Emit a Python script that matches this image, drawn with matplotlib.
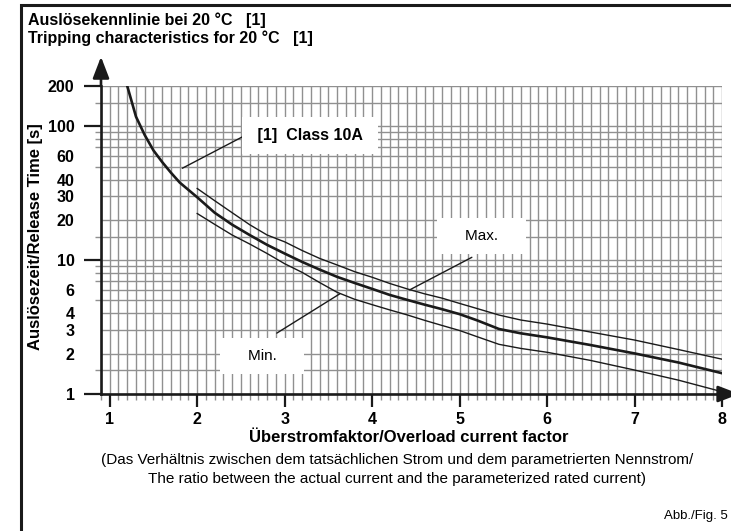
"""
Auslösekennlinie / Tripping characteristics (Class 10A)
"""
import numpy as np
import matplotlib
matplotlib.use('Agg')
import matplotlib.pyplot as plt
from matplotlib.patches import Rectangle
from matplotlib.ticker import FixedLocator, NullLocator, NullFormatter

plt.rcParams['font.family'] = ['Liberation Sans', 'DejaVu Sans']

# Kennlinien
main_x = [1.2, 1.3, 1.4, 1.5, 1.6, 1.7, 1.8, 2.0, 2.2, 2.4, 2.6, 2.8, 3.0, 3.2, 3.4, 3.6,
          3.8, 4.0, 4.2, 4.4, 4.6, 4.8, 5.0, 5.2, 5.45, 5.7, 6.0, 6.5, 7.0, 7.5, 8.0]
main_y = [200, 118, 86, 66, 54, 45, 38, 29.5, 22.6, 18.4, 15.4, 13.0, 11.2, 9.7, 8.5, 7.5,
          6.75, 6.1, 5.5, 5.05, 4.65, 4.3, 3.95, 3.55, 3.06, 2.84, 2.65, 2.32, 2.01, 1.72, 1.43]

max_x = [2.0, 2.2, 2.4, 2.6, 2.8, 3.0, 3.2, 3.4, 3.6, 3.8, 4.0, 4.2, 4.4, 4.6, 4.8, 5.0,
         5.2, 5.45, 5.7, 6.0, 6.5, 7.0, 7.5, 8.0]
max_y = [34.3, 27.8, 22.6, 18.4, 15.4, 13.7, 11.8, 10.3, 9.2, 8.2, 7.45, 6.7, 6.1, 5.6, 5.2, 4.75,
         4.35, 3.89, 3.57, 3.33, 2.9, 2.53, 2.15, 1.82]

min_x = [2.0, 2.2, 2.4, 2.6, 2.8, 3.0, 3.2, 3.4, 3.6, 3.8, 4.0, 4.2, 4.4, 4.6, 4.8, 5.0,
         5.2, 5.45, 5.7, 6.0, 6.5, 7.0, 7.5, 8.0]
min_y = [22.3, 18.5, 15.4, 13.2, 11.2, 9.4, 8.1, 6.8, 5.75, 5.1, 4.65, 4.25, 3.9, 3.55, 3.25, 2.98,
         2.68, 2.35, 2.19, 2.05, 1.78, 1.51, 1.27, 1.04]

# Achsen
x_ticks = [1, 2, 3, 4, 5, 6, 7, 8]
y_ticks = [1, 2, 3, 4, 6, 10, 20, 30, 40, 60, 100, 200]
y_long_ticks = [1, 10, 100, 200]
y_grid = [1, 1.5, 2, 3, 4, 5, 6, 7, 8, 9, 10, 15, 20, 30, 40, 50, 60, 70, 80, 90,
          100, 150, 200]

dark = '#1a1a1a'
gridc = '#909090'

fig = plt.figure(figsize=(7.31, 5.31), dpi=100)
ax = fig.add_axes([101 / 731, 1 - 394 / 531, 621 / 731, 308 / 531])

ax.plot(max_x, max_y, color=dark, lw=1.0, zorder=3)
ax.plot(min_x, min_y, color=dark, lw=1.0, zorder=3)
ax.plot(main_x, main_y, color=dark, lw=1.9, zorder=3)

ax.set_yscale('log')
ax.set_xlim(0.9, 8.0)
ax.set_ylim(1, 200)

ax.xaxis.set_major_locator(FixedLocator(x_ticks))
ax.xaxis.set_minor_locator(FixedLocator(np.arange(0.9, 8.01, 0.1)))
ax.yaxis.set_major_locator(FixedLocator(y_ticks))
ax.yaxis.set_minor_locator(FixedLocator(y_grid))
ax.set_yticklabels([str(v) for v in y_ticks])
ax.yaxis.set_minor_formatter(NullFormatter())

ax.grid(which='both', color=gridc, lw=1.0, zorder=0)
ax.set_axisbelow(True)

for s in ['top', 'right']:
    ax.spines[s].set_visible(False)
for s in ['left', 'bottom']:
    ax.spines[s].set_linewidth(1.9)
    ax.spines[s].set_color(dark)

ax.tick_params(axis='x', which='major', length=9, width=1.6, color=dark, pad=4,
               labelsize=11.5)
ax.tick_params(axis='x', which='minor', length=4.5, width=1.0, color=gridc)
ax.tick_params(axis='y', which='major', length=0, pad=19, labelsize=11.5)
ax.tick_params(axis='y', which='minor', length=4, width=1.0, color=gridc)
for lab in ax.get_xticklabels() + ax.get_yticklabels():
    lab.set_fontweight('bold')

# lange Striche an 1, 10, 100, 200
sec = ax.secondary_yaxis('left')
sec.yaxis.set_major_locator(FixedLocator(y_long_ticks))
sec.yaxis.set_minor_locator(NullLocator())
sec.yaxis.set_major_formatter(NullFormatter())
sec.tick_params(length=12, width=1.6, color=dark)
sec.spines['left'].set_visible(False)

# Pfeile
ax.annotate('', xy=(0, 1.095), xytext=(0, 1.0), xycoords='axes fraction',
            arrowprops=dict(arrowstyle='-|>,head_length=0.65,head_width=0.25',
                            lw=1.9, color=dark, shrinkA=0, shrinkB=0,
                            mutation_scale=20))
ax.annotate('', xy=(1.028, 0), xytext=(1.0, 0), xycoords='axes fraction',
            annotation_clip=False,
            arrowprops=dict(arrowstyle='-|>,head_length=0.65,head_width=0.25',
                            lw=1.9, color=dark, shrinkA=0, shrinkB=0,
                            mutation_scale=20))

# Beschriftungen der Kurven
box = dict(boxstyle='square,pad=0.7', fc='white', ec='none')
ax.text(3.29, 85, ' [1]  Class 10A ', ha='center', va='center', fontsize=11.5,
        fontweight='bold', bbox=box, zorder=4)
ax.text(5.25, 15.1, '    Max.    ', ha='center', va='center', fontsize=11,
        bbox=box, zorder=4)
ax.text(2.74, 1.92, '    Min.    ', ha='center', va='center', fontsize=11,
        bbox=box, zorder=4)

lead = dict(arrowstyle='-', lw=1.0, color=dark, shrinkA=0, shrinkB=0)
ax.annotate('', xy=(1.83, 48.6), xytext=(2.55, 85.6), arrowprops=lead)
ax.annotate('', xy=(4.43, 6.0), xytext=(5.14, 10.5), arrowprops=lead)
ax.annotate('', xy=(3.63, 5.6), xytext=(2.91, 2.85), arrowprops=lead)

# Texte
fig.text(28 / 731, 1 - 25.5 / 531, 'Auslösekennlinie bei 20 °C   [1]', fontsize=11.5,
         fontweight='bold', va='baseline')
fig.text(28 / 731, 1 - 43 / 531, 'Tripping characteristics for 20 °C   [1]',
         fontsize=11.5, fontweight='bold', va='baseline')
fig.text(36 / 731, 1 - 237 / 531, 'Auslösezeit/Release Time [s]', rotation=90,
         fontsize=12, fontweight='bold', ha='center', va='center')
fig.text(409 / 731, 1 - 438 / 531, 'Überstromfaktor/Overload current factor',
         fontsize=12, fontweight='bold', ha='center', va='center')
fig.text(397 / 731, 1 - 460 / 531,
         '(Das Verhältnis zwischen dem tatsächlichen Strom und dem parametrierten Nennstrom/',
         fontsize=11, ha='center', va='center')
fig.text(397 / 731, 1 - 479 / 531,
         'The ratio between the actual current and the parameterized rated current)',
         fontsize=11, ha='center', va='center')
fig.text(664 / 731, 1 - 516 / 531, 'Abb./Fig. 5', fontsize=9.5, va='center')

# Rahmen
fig.patches.append(Rectangle((21 / 731, -0.1), 1.2, 1 - 5 / 531 + 0.1,
                             transform=fig.transFigure, fill=False, lw=2.2,
                             ec=dark))

fig.savefig('out.png', dpi=100)
